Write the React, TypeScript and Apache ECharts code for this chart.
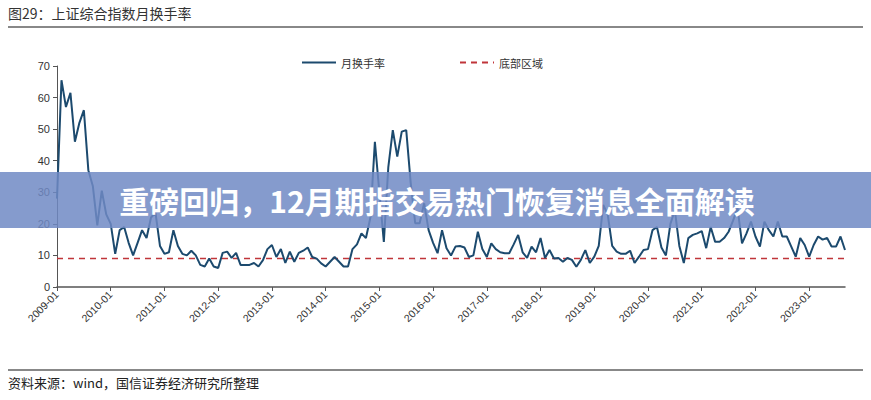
import React, { useEffect, useRef } from "react";
import * as echarts from "echarts";

const titleText = "图29：上证综合指数月换手率";
const sourceText = "资料来源：wind，国信证券经济研究所整理";
const bannerText = "重磅回归，12月期指交易热门恢复消息全面解读";
const seriesNames = ["月换手率", "底部区域"];

const years = [2009, 2010, 2011, 2012, 2013, 2014, 2015, 2016, 2017, 2018, 2019, 2020, 2021, 2022, 2023];

const v2009 = [28, 65.5, 57, 61.5, 46, 52, 56, 37, 32, 19.5, 30.5, 23];
const v2010 = [20, 10.5, 18, 19, 14, 10, 14, 18, 15.5, 22, 23.5, 13];
const v2011 = [10.5, 11, 18, 13, 10.5, 10, 11.5, 10, 7, 6.5, 9, 6.5];
const v2012 = [6, 10.8, 11.2, 9.2, 10.8, 7, 7, 7, 7.6, 6.5, 8.5, 12];
const v2013 = [13.3, 9.5, 12, 7.6, 11.2, 8, 10.8, 11.5, 12.5, 9.5, 9, 7.5];
const v2014 = [6.5, 8, 9.5, 8, 6.5, 6.5, 12, 13.5, 17, 15.5, 22, 46];
const v2015 = [30, 14.3, 38, 49.7, 41.3, 49.2, 49.7, 33, 20.2, 20.2, 26.5, 18];
const v2016 = [14, 10.7, 18, 12.3, 10, 12.8, 13, 12.5, 9.5, 10, 17.5, 12];
const v2017 = [9.5, 13.8, 12, 11, 10.7, 10.7, 13.5, 16.5, 11, 9.2, 12.8, 11];
const v2018 = [15.5, 9.2, 11.7, 9, 9.2, 8, 9.2, 8.6, 6.4, 8.6, 11.7, 7.6];
const v2019 = [9.6, 13, 26, 23, 13, 11.2, 10.5, 10.5, 11.5, 7.6, 9.6, 11.7];
const v2020 = [12, 18, 19, 12.5, 10, 20, 24.3, 13, 7.6, 15.5, 16.5, 17];
const v2021 = [17.7, 12.3, 19, 14.3, 14.3, 15.5, 17.5, 21, 25, 13.8, 17, 20.7];
const v2022 = [16, 12.8, 20.7, 18, 16, 20.7, 16, 16, 12.8, 9.6, 15.5, 13.3];
const v2023 = [9.6, 13.3, 16, 15, 15.5, 12.8, 12.8, 16, 11.7];

const turnover = [
  ...v2009, ...v2010, ...v2011, ...v2012, ...v2013, ...v2014, ...v2015, ...v2016,
  ...v2017, ...v2018, ...v2019, ...v2020, ...v2021, ...v2022, ...v2023,
];

const categories: string[] = [];
years.forEach((y) => {
  for (let m = 1; m <= 12; m++) {
    if (categories.length < turnover.length) categories.push(`${y}-${String(m).padStart(2, "0")}`);
  }
});

const bottomLevel = 9;
const bottomLine = categories.map(() => bottomLevel);

export default function App() {
  const ref = useRef<HTMLDivElement>(null);
  useEffect(() => {
    if (!ref.current) return;
    const chart = echarts.init(ref.current, null, { renderer: "svg" });
    const font = "'Noto Sans CJK SC', 'Noto Sans', sans-serif";
    chart.setOption({
      animation: false,
      backgroundColor: "#ffffff",
      textStyle: { fontFamily: font },
      grid: { left: 57, right: 26, top: 66, bottom: 113, containLabel: false },
      legend: {
        left: 296,
        top: 52,
        itemWidth: 34,
        itemHeight: 14,
        itemGap: 74,
        itemStyle: { opacity: 0 },
        textStyle: { fontSize: 11, color: "#333", fontFamily: font },
        data: seriesNames,
      },
      xAxis: {
        type: "category",
        data: categories,
        boundaryGap: false,
        axisLine: { lineStyle: { color: "#555", width: 1.5 } },
        axisTick: { interval: 11, length: 4, lineStyle: { color: "#555" } },
        axisLabel: {
          interval: 11,
          rotate: 45,
          fontSize: 10.5,
          color: "#333",
          margin: 6,
          fontFamily: "'Liberation Sans', Arial, sans-serif",
        },
        splitLine: { show: false },
      },
      yAxis: {
        type: "value",
        min: 0,
        max: 70,
        interval: 10,
        axisLine: { show: true, lineStyle: { color: "#555", width: 1 } },
        axisTick: { show: true, length: 4, lineStyle: { color: "#555" } },
        axisLabel: { fontSize: 11, color: "#333", margin: 7, fontFamily: "'Liberation Sans', Arial, sans-serif" },
        splitLine: { show: false },
      },
      series: [
        {
          name: seriesNames[0],
          type: "line",
          data: turnover,
          symbol: "none",
          lineStyle: { color: "#1c4a6e", width: 2 },
          itemStyle: { color: "#1c4a6e" },
          z: 3,
        },
        {
          name: seriesNames[1],
          type: "line",
          data: bottomLine,
          symbol: "none",
          lineStyle: { color: "#c0353a", width: 1.5, type: [6, 5] },
          itemStyle: { color: "#c0353a" },
          z: 2,
        },
      ],
      graphic: [
        {
          type: "text",
          left: 8,
          top: 6,
          style: { text: titleText, fontSize: 14, fill: "#333", fontFamily: font },
        },
        {
          type: "line",
          shape: { x1: 8, y1: 27, x2: 863, y2: 27 },
          style: { stroke: "#888", lineWidth: 2 },
        },
        {
          type: "line",
          shape: { x1: 8, y1: 370, x2: 863, y2: 370 },
          style: { stroke: "#888", lineWidth: 2 },
        },
        {
          type: "text",
          left: 8,
          top: 376,
          style: { text: sourceText, fontSize: 13, fill: "#222", fontFamily: font },
        },
        {
          type: "rect",
          shape: { x: 0, y: 172, width: 871, height: 56 },
          style: { fill: "rgba(112,138,196,0.85)" },
          z: 100,
        },
        {
          type: "text",
          x: 437,
          y: 200,
          style: {
            text: bannerText,
            fontSize: 30,
            fontWeight: "bold",
            fill: "#ffffff",
            align: "center",
            verticalAlign: "middle",
            fontFamily: font,
          },
          z: 101,
        },
      ],
    });
    return () => chart.dispose();
  }, []);
  return (
    <div
      ref={ref}
      style={{ position: "fixed", left: 0, top: 0, width: 871, height: 400, background: "#fff" }}
    />
  );
}
